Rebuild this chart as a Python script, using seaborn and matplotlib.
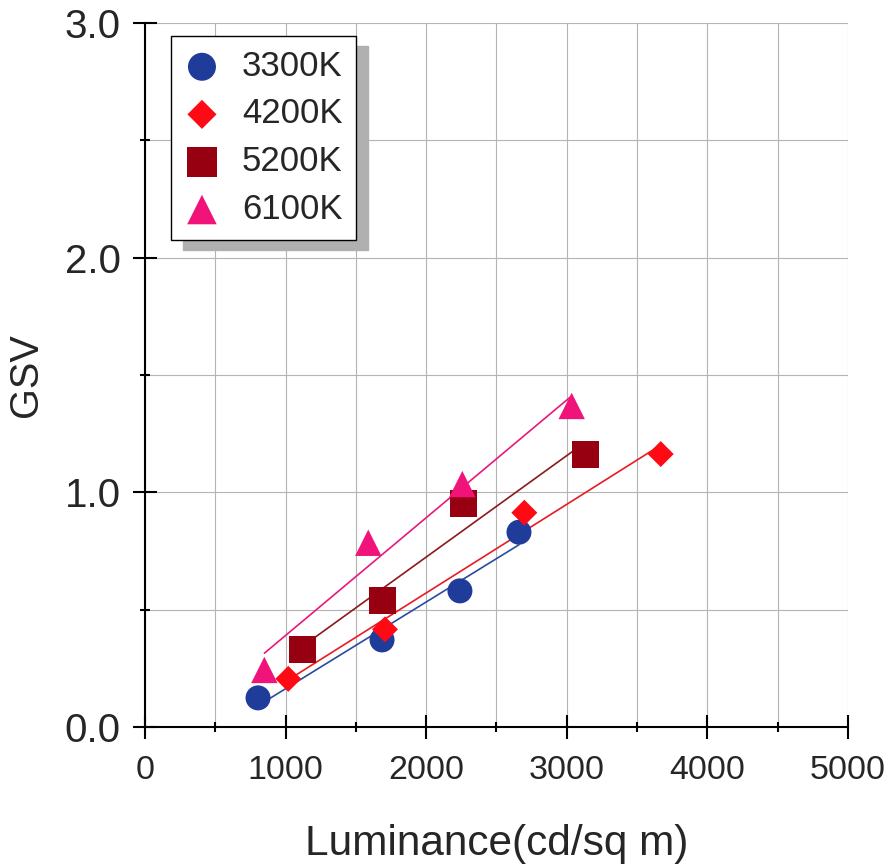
import matplotlib.pyplot as plt
import numpy as np
import pandas as pd
import seaborn as sns
from matplotlib.ticker import MultipleLocator

# values
series = ["3300K", "4200K", "5200K", "6100K"]
lum_3300 = [804, 1686, 2240, 2660]
gsv_3300 = [0.124, 0.371, 0.580, 0.830]
lum_4200 = [1019, 1707, 2698, 3668]
gsv_4200 = [0.205, 0.416, 0.913, 1.163]
lum_5200 = [1119, 1688, 2264, 3130]
gsv_5200 = [0.331, 0.537, 0.953, 1.162]
lum_6100 = [849, 1588, 2257, 3035]
gsv_6100 = [0.243, 0.785, 1.035, 1.368]

x_ticks = [0, 1000, 2000, 3000, 4000, 5000]
y_ticks = [0.0, 1.0, 2.0, 3.0]

df = pd.concat(
    [
        pd.DataFrame({"lum": lum_3300, "gsv": gsv_3300, "cct": "3300K"}),
        pd.DataFrame({"lum": lum_4200, "gsv": gsv_4200, "cct": "4200K"}),
        pd.DataFrame({"lum": lum_5200, "gsv": gsv_5200, "cct": "5200K"}),
        pd.DataFrame({"lum": lum_6100, "gsv": gsv_6100, "cct": "6100K"}),
    ],
    ignore_index=True,
)

# marker, marker area (pt^2), marker colour, fit-line colour
styles = {
    "3300K": ("o", 324, "#1f3c9a", "#2a4aa0"),
    "4200K": ("D", 175, "#ff0a14", "#e81b23"),
    "5200K": ("s", 380, "#960010", "#8b1a1a"),
    "6100K": ("^", 361, "#f0147a", "#e8197a"),
}

sns.set_style("ticks")
plt.rcParams["font.family"] = ["Liberation Sans", "DejaVu Sans"]

fig = plt.figure(figsize=(8.9, 8.67), dpi=100)
ax = fig.add_axes([0.1629, 0.1615, 0.7899, 0.812])

for name in series:
    marker, size, mcolor, lcolor = styles[name]
    sub = df[df["cct"] == name]
    sns.regplot(
        data=sub, x="lum", y="gsv", scatter=False, ci=None, truncate=True,
        line_kws={"color": lcolor, "lw": 1.2, "zorder": 2}, ax=ax,
    )
    sns.scatterplot(
        data=sub, x="lum", y="gsv", marker=marker, s=size, color=mcolor,
        edgecolor="none", linewidth=0, label=name, zorder=3, ax=ax,
    )

ax.set_xlim(0, 5000)
ax.set_ylim(0, 3.0)
ax.set_xticks(x_ticks)
ax.set_yticks(y_ticks)
ax.set_yticklabels([f"{v:.1f}" for v in y_ticks])
ax.xaxis.set_minor_locator(MultipleLocator(500))
ax.yaxis.set_minor_locator(MultipleLocator(0.5))

ax.grid(which="both", color="#b4b4b4", lw=0.8)
ax.set_axisbelow(True)

for side in ["top", "right"]:
    ax.spines[side].set_visible(False)
for side in ["left", "bottom"]:
    ax.spines[side].set_linewidth(1.5)
    ax.spines[side].set_color("black")

ax.tick_params(which="major", direction="inout", length=17, width=1.5, color="black")
ax.tick_params(which="minor", direction="inout", length=7, width=1.5, color="black")
ax.tick_params(axis="x", which="major", labelsize=24.5, pad=12)
ax.tick_params(axis="y", which="major", labelsize=29, pad=9)

ax.set_xlabel("Luminance(cd/sq m)", fontsize=30.5, labelpad=27)
ax.set_ylabel("GSV", fontsize=28.5, labelpad=14)

leg = ax.legend(
    loc="upper left", bbox_to_anchor=(0.0366, 0.9815), borderaxespad=0,
    frameon=True, fancybox=False, edgecolor="black", framealpha=1,
    shadow={"ox": 8.5, "oy": -7.5, "color": "#b0b0b0", "alpha": 1},
    fontsize=25, borderpad=0.4, labelspacing=0.42, handlelength=1.0,
    handletextpad=0.65, markerscale=1.12,
)
leg.get_frame().set_linewidth(1.0)

fig.savefig("out.png", dpi=100)
